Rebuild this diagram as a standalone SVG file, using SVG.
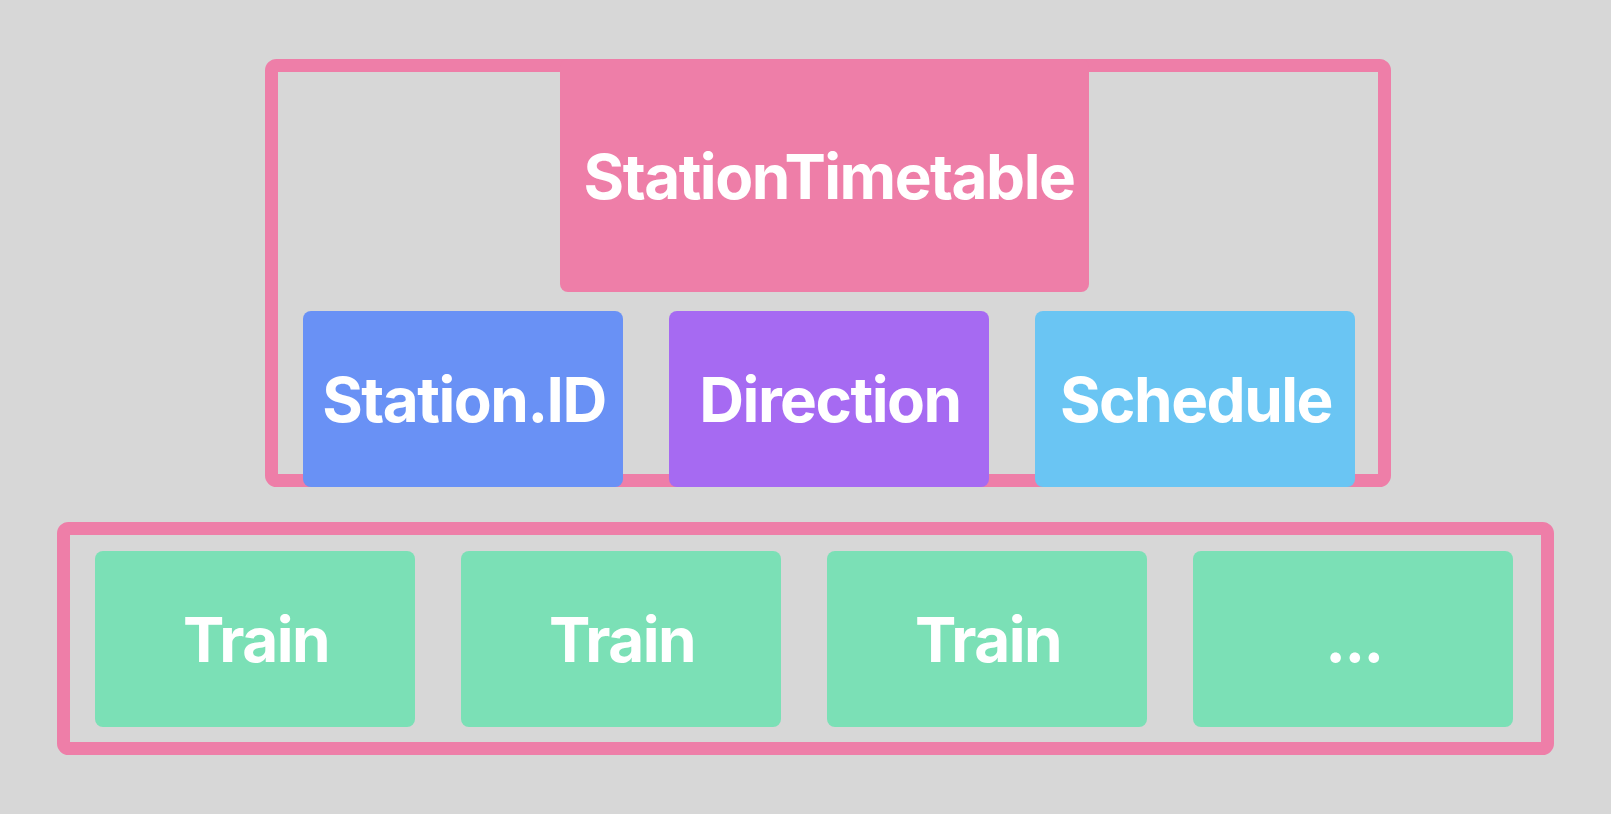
<svg xmlns="http://www.w3.org/2000/svg" width="1611" height="814" viewBox="0 0 1611 814">
  <style>
    .frame { fill: none; stroke: #EE7EA8; stroke-width: 13; }
    .lbl { fill: #ffffff; font-family: Inter, "Noto Sans", "DejaVu Sans", sans-serif; font-weight: 700; font-size: 62px; letter-spacing: -1.5px; text-anchor: middle; }
  </style>
  <rect x="0" y="0" width="1611" height="814" fill="#D7D7D7"/>
  <g id="timetable-frame">
    <rect class="frame" x="271.5" y="65.5" width="1113" height="415" rx="5"/>
  </g>
  <g id="train-frame">
    <rect class="frame" x="63.5" y="528.5" width="1484" height="220" rx="5"/>
  </g>
  <g id="connectors"></g>
  <g id="StationTimetable">
    <rect x="560" y="59" width="529" height="233" rx="8" fill="#EE7EA8"/>
    <text class="lbl" x="829" y="199">StationTimetable</text>
  </g>
  <g id="StationID">
    <rect x="303" y="311" width="320" height="176" rx="8" fill="#6991F5"/>
    <text class="lbl" x="464" y="422">Station.ID</text>
  </g>
  <g id="Direction">
    <rect x="669" y="311" width="320" height="176" rx="8" fill="#A66AF2"/>
    <text class="lbl" x="830" y="422">Direction</text>
  </g>
  <g id="Schedule">
    <rect x="1035" y="311" width="320" height="176" rx="8" fill="#6AC5F3"/>
    <text class="lbl" x="1196" y="422">Schedule</text>
  </g>
  <g id="Train1">
    <rect x="95" y="551" width="320" height="176" rx="8" fill="#7BE0B6"/>
    <text class="lbl" x="256" y="662">Train</text>
  </g>
  <g id="Train2">
    <rect x="461" y="551" width="320" height="176" rx="8" fill="#7BE0B6"/>
    <text class="lbl" x="622" y="662">Train</text>
  </g>
  <g id="Train3">
    <rect x="827" y="551" width="320" height="176" rx="8" fill="#7BE0B6"/>
    <text class="lbl" x="988" y="662">Train</text>
  </g>
  <g id="More">
    <rect x="1193" y="551" width="320" height="176" rx="8" fill="#7BE0B6"/>
    <text class="lbl" x="1354" y="662">...</text>
  </g>
</svg>
